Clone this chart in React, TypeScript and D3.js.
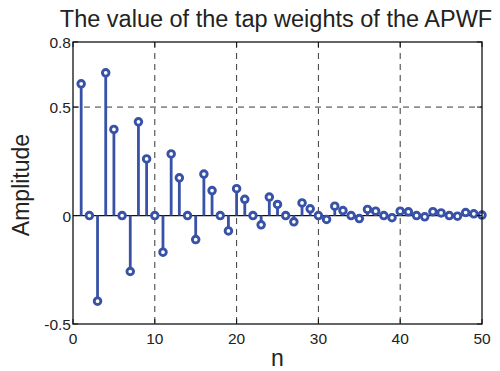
import { useRef, useEffect } from 'react';
import * as d3 from 'd3';

const taps = d3.range(1, 51);
const weights = [
  0.607, 0, -0.395, 0.658, 0.397, 0, -0.258, 0.432, 0.261, 0,
  -0.169, 0.284, 0.174, 0, -0.111, 0.191, 0.115, 0, -0.071, 0.124,
  0.075, 0, -0.043, 0.085, 0.051, 0, -0.029, 0.058, 0.031, 0,
  -0.018, 0.043, 0.023, 0, -0.014, 0.028, 0.02, 0, -0.01, 0.02,
  0.017, 0, -0.006, 0.018, 0.012, 0, -0.003, 0.014, 0.008, 0.002,
];
const xTicks = [0, 10, 20, 30, 40, 50];
const yTicks = [-0.5, 0, 0.5, 0.8];
const yTickLabels = ['-0.5', '0', '0.5', '0.8'];

export default function App() {
  const svgRef = useRef<SVGSVGElement>(null);

  useEffect(() => {
    if (!svgRef.current) return;
    const svg = d3.select(svgRef.current);
    svg.selectAll('*').remove();

    const width = 500;
    const height = 371;
    const margin = { top: 42, right: 18, bottom: 47, left: 73 };
    const font = 'Liberation Sans, Arial, Helvetica, sans-serif';
    const blue = '#3752a6';

    const x = d3.scaleLinear().domain([0, 50]).range([margin.left, width - margin.right]);
    const y = d3.scaleLinear().domain([-0.5, 0.8]).range([height - margin.bottom, margin.top]);

    const g = svg.append('g');

    // dashed grid
    xTicks.slice(1, -1).forEach((t) => {
      g.append('line')
        .attr('x1', x(t)).attr('x2', x(t))
        .attr('y1', y(0.8)).attr('y2', y(-0.5))
        .attr('stroke', '#222').attr('stroke-width', 0.9)
        .attr('stroke-dasharray', '6,5');
    });
    g.append('line')
      .attr('x1', x(0)).attr('x2', x(50))
      .attr('y1', y(0.5)).attr('y2', y(0.5))
      .attr('stroke', '#222').attr('stroke-width', 0.9)
      .attr('stroke-dasharray', '6,5');

    // baseline
    g.append('line')
      .attr('x1', x(0)).attr('x2', x(50))
      .attr('y1', y(0)).attr('y2', y(0))
      .attr('stroke', '#111').attr('stroke-width', 1.3);

    // stems
    g.selectAll('line.stem')
      .data(taps)
      .join('line')
      .attr('class', 'stem')
      .attr('x1', (d) => x(d)).attr('x2', (d) => x(d))
      .attr('y1', y(0))
      .attr('y2', (d, i) => y(weights[i]))
      .attr('stroke', blue).attr('stroke-width', 2.8);

    g.selectAll('circle.mk')
      .data(taps)
      .join('circle')
      .attr('class', 'mk')
      .attr('cx', (d) => x(d))
      .attr('cy', (d, i) => y(weights[i]))
      .attr('r', 3.3)
      .attr('fill', '#fff')
      .attr('stroke', blue).attr('stroke-width', 2.9);

    // box
    g.append('rect')
      .attr('x', x(0)).attr('y', y(0.8))
      .attr('width', x(50) - x(0)).attr('height', y(-0.5) - y(0.8))
      .attr('fill', 'none').attr('stroke', '#111').attr('stroke-width', 1.3);

    // ticks
    xTicks.forEach((t) => {
      g.append('line').attr('x1', x(t)).attr('x2', x(t))
        .attr('y1', y(-0.5)).attr('y2', y(-0.5) - 5).attr('stroke', '#111');
      g.append('line').attr('x1', x(t)).attr('x2', x(t))
        .attr('y1', y(0.8)).attr('y2', y(0.8) + 5).attr('stroke', '#111');
      g.append('text')
        .attr('x', x(t)).attr('y', y(-0.5) + 20)
        .attr('text-anchor', 'middle')
        .attr('font-family', font).attr('font-size', 15.5).attr('fill', '#222')
        .text(String(t));
    });
    yTicks.forEach((t, i) => {
      g.append('line').attr('x1', x(0)).attr('x2', x(0) + 5)
        .attr('y1', y(t)).attr('y2', y(t)).attr('stroke', '#111');
      g.append('line').attr('x1', x(50)).attr('x2', x(50) - 5)
        .attr('y1', y(t)).attr('y2', y(t)).attr('stroke', '#111');
      g.append('text')
        .attr('x', x(0) - 2).attr('y', y(t) + 6)
        .attr('text-anchor', 'end')
        .attr('font-family', font).attr('font-size', 15.5).attr('fill', '#222')
        .text(yTickLabels[i]);
    });

    // labels
    svg.append('text')
      .attr('x', 276).attr('y', 27)
      .attr('text-anchor', 'middle')
      .attr('font-family', font).attr('font-size', 23.5).attr('fill', '#222')
      .text('The value of the tap weights of the APWF');
    svg.append('text')
      .attr('x', (x(0) + x(50)) / 2).attr('y', 366)
      .attr('text-anchor', 'middle')
      .attr('font-family', font).attr('font-size', 23).attr('fill', '#222')
      .text('n');
    svg.append('text')
      .attr('transform', `translate(29, ${(y(0.8) + y(-0.5)) / 2 + 2}) rotate(-90)`)
      .attr('text-anchor', 'middle')
      .attr('font-family', font).attr('font-size', 23).attr('fill', '#222')
      .text('Amplitude');
  }, []);

  return (
    <svg
      ref={svgRef}
      width={500}
      height={371}
      style={{ position: 'absolute', left: 0, top: 0, background: '#fff' }}
    />
  );
}
